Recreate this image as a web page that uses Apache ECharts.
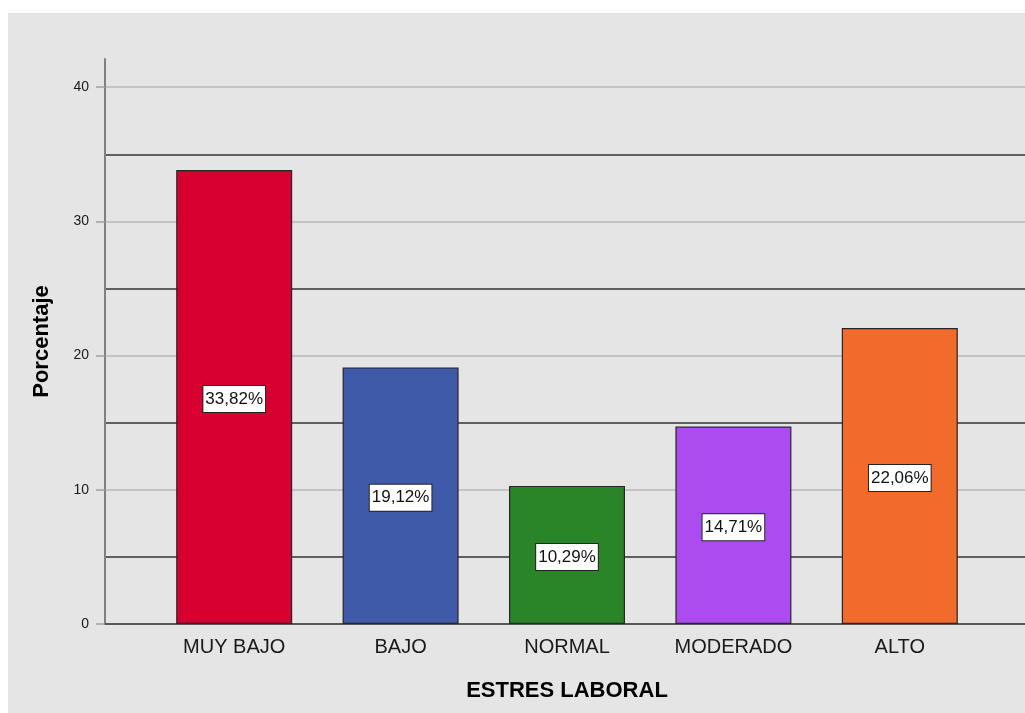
<!DOCTYPE html>
<html>
<head>
<meta charset="utf-8">
<title>Estres laboral</title>
<script src="https://cdn.jsdelivr.net/npm/echarts@6/dist/echarts.min.js"></script>
<style>
  html, body { margin: 0; padding: 0; background: #ffffff; }
  #chart { position: absolute; left: 8px; top: 13px; width: 1017px; height: 700px; background: #e5e5e5; }
</style>
</head>
<body>
<div id="chart"></div>
<script>
// categorias y porcentajes
const categories = ['MUY BAJO', 'BAJO', 'NORMAL', 'MODERADO', 'ALTO'];
const percentages = [33.82, 19.12, 10.29, 14.71, 22.06];
const barColors = ['#d60030', '#3f5aa8', '#2a8528', '#ab4bf0', '#f26a2c'];
const yTicks = [0, 10, 20, 30, 40];
const midLines = [5, 15, 25, 35];

const Y_MAX = 42.1;
const font = '"Liberation Sans", Arial, sans-serif';

const chart = echarts.init(document.getElementById('chart'));

// grid 0: ejes y lineas de fondo, grid 1: las barras
const option = {
  animation: false,
  grid: [
    { left: 97, right: 0, top: 46, bottom: 89 },
    { left: 143, right: 42, top: 46, bottom: 89 }
  ],
  xAxis: [
    {
      gridIndex: 0, type: 'value', min: 0, max: 1,
      axisLine: { show: true, lineStyle: { color: '#333333', width: 1.5 } },
      axisTick: { show: false }, axisLabel: { show: false }, splitLine: { show: false }
    },
    {
      gridIndex: 1, type: 'category', data: categories,
      axisLine: { show: false }, axisTick: { show: false },
      axisLabel: { color: '#1a1a1a', fontSize: 20, fontFamily: font, margin: 13 },
      name: 'ESTRES LABORAL', nameLocation: 'middle', nameGap: 56,
      nameTextStyle: { color: '#000000', fontSize: 22, fontWeight: 'bold', fontFamily: font }
    }
  ],
  yAxis: [
    {
      gridIndex: 0, type: 'value', min: 0, max: Y_MAX,
      axisLine: { show: true, lineStyle: { color: '#808080', width: 2 } },
      axisTick: { show: true, customValues: yTicks, length: 9, lineStyle: { color: '#a0a0a0', width: 1.5 } },
      axisLabel: {
        customValues: yTicks, color: '#1a1a1a', fontSize: 14, fontFamily: font, margin: 16
      },
      splitLine: { show: true, lineStyle: { color: '#b8b8b8', width: 1.6 } },
      name: 'Porcentaje', nameLocation: 'middle', nameGap: 52,
      nameTextStyle: { color: '#000000', fontSize: 22, fontWeight: 'bold', fontFamily: font }
    },
    {
      // lineas oscuras en 5, 15, 25, 35
      gridIndex: 0, type: 'value', min: 0, max: Y_MAX,
      axisLine: { show: false },
      axisTick: { show: true, customValues: midLines, length: 6, lineStyle: { color: '#303030', width: 1.6 } },
      axisLabel: { show: false, customValues: midLines },
      splitLine: { show: true, lineStyle: { color: '#303030', width: 1.6 } }
    },
    {
      gridIndex: 1, type: 'value', min: 0, max: Y_MAX, show: false
    }
  ],
  series: [
    {
      type: 'bar',
      xAxisIndex: 1,
      yAxisIndex: 2,
      barWidth: 116,
      data: percentages.map((v, i) => ({
        value: v,
        itemStyle: { color: barColors[i], borderColor: '#262626', borderWidth: 1.2 }
      })),
      label: {
        show: true,
        position: 'inside',
        offset: [0, 2],
        formatter: p => p.value.toFixed(2).replace('.', ',') + '%',
        color: '#111111',
        fontSize: 17,
        fontFamily: font,
        backgroundColor: '#ffffff',
        borderColor: '#222222',
        borderWidth: 1,
        padding: [5, 2, 4, 2]
      }
    }
  ]
};

chart.setOption(option);
</script>
</body>
</html>
